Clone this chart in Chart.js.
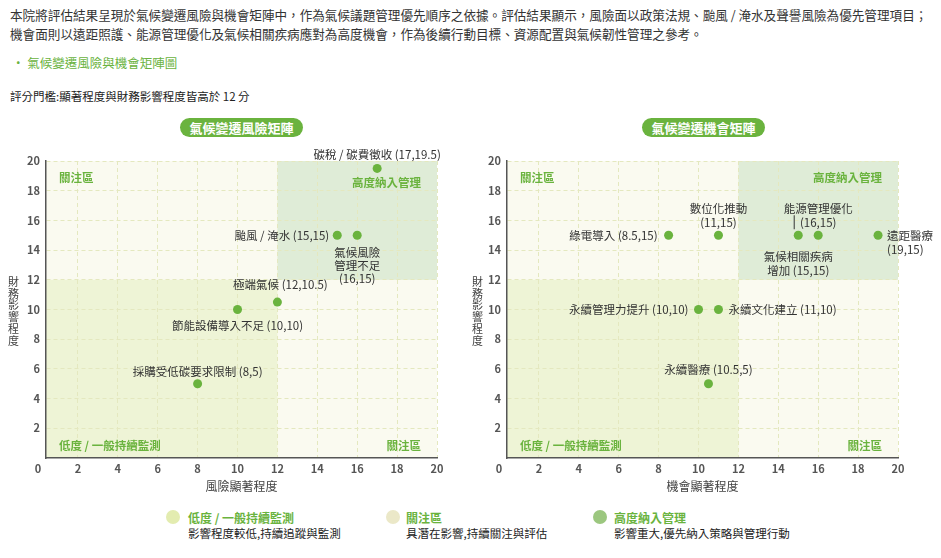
<!DOCTYPE html>
<html lang="zh-Hant">
<head>
<meta charset="utf-8">
<script src="https://cdn.jsdelivr.net/npm/chart.js@4.4.0/dist/chart.umd.min.js"></script>
<style>
  body { margin: 0; width: 941px; height: 558px; background: #fff; position: relative; overflow: hidden;
         font-family: "Noto Sans CJK TC", "Noto Sans", sans-serif; color: #333; }
  .intro { position: absolute; left: 10px; top: 5px; margin: 0; font-size: 12.6px; line-height: 19px; white-space: nowrap; }
  .heading { position: absolute; left: 12px; top: 53px; margin: 0; font-size: 12.5px; color: #6ab33e; }
  .threshold { position: absolute; left: 10px; top: 88px; margin: 0; font-size: 11.5px; color: #222; }
  .pill { position: absolute; top: 118px; width: 123px; height: 19px; border-radius: 10px; background: #6ab33e;
          color: #fff; font-size: 13px; font-weight: bold; text-align: center; line-height: 19px; }
  .chart-box { position: absolute; top: 140px; height: 360px; }
  .ytitle { position: absolute; top: 276px; width: 11px; font-size: 11px; line-height: 11.7px; color: #444; word-break: break-all; }
  .legend-dot { position: absolute; top: 510px; width: 14px; height: 14px; border-radius: 50%; }
  .legend-title { position: absolute; top: 509px; font-size: 12px; font-weight: bold; color: #6ab33e; white-space: nowrap; }
  .legend-desc { position: absolute; top: 525px; font-size: 11.5px; color: #222; white-space: nowrap; }
</style>
</head>
<body>
<p class="intro">本院將評估結果呈現於氣候變遷風險與機會矩陣中，作為氣候議題管理優先順序之依據。評估結果顯示，風險面以政策法規、颱風 / 淹水及聲譽風險為優先管理項目；<br>機會面則以遠距照護、能源管理優化及氣候相關疾病應對為高度機會，作為後續行動目標、資源配置與氣候韌性管理之參考。</p>
<p class="heading">・ 氣候變遷風險與機會矩陣圖</p>
<p class="threshold">評分門檻:顯著程度與財務影響程度皆高於 12 分</p>

<div class="pill" style="left:180px">氣候變遷風險矩陣</div>
<div class="pill" style="left:642px">氣候變遷機會矩陣</div>

<div class="chart-box" style="left:0; width:470px"><canvas id="riskChart"></canvas></div>
<div class="chart-box" style="left:470px; width:471px"><canvas id="oppChart"></canvas></div>

<div class="ytitle" style="left:8px">財務影響程度</div>
<div class="ytitle" style="left:472px">財務影響程度</div>

<div class="legend-dot" style="left:166px; background:#e3ecb0"></div>
<div class="legend-title" style="left:188px">低度 / 一般持續監測</div>
<div class="legend-desc" style="left:188px">影響程度較低,持續追蹤與監測</div>
<div class="legend-dot" style="left:386px; background:#ebe8c8"></div>
<div class="legend-title" style="left:406px">關注區</div>
<div class="legend-desc" style="left:406px">具潛在影響,持續關注與評估</div>
<div class="legend-dot" style="left:593px; background:#9cc77f"></div>
<div class="legend-title" style="left:614px">高度納入管理</div>
<div class="legend-desc" style="left:614px">影響重大,優先納入策略與管理行動</div>

<script>
const riskNames = ['碳稅 / 碳費徵收', '颱風 / 淹水', '氣候風險管理不足', '極端氣候', '節能設備導入不足', '採購受低碳要求限制'];
const riskX = [17, 15, 16, 12, 10, 8];
const riskY = [19.5, 15, 15, 10.5, 10, 5];

const oppNames = ['綠電導入', '數位化推動', '能源管理優化', '氣候相關疾病增加', '遠距醫療', '永續管理力提升', '永續文化建立', '永續醫療'];
const oppX = [8.5, 11, 16, 15, 19, 10, 11, 10.5];
const oppY = [15, 15, 15, 15, 15, 10, 10, 5];

const xTicks = [0, 2, 4, 6, 8, 10, 12, 14, 16, 18, 20];
const yTicks = [2, 4, 6, 8, 10, 12, 14, 16, 18, 20];
const threshold = 12;
const zoneLabels = ['關注區', '高度納入管理', '低度 / 一般持續監測', '關注區'];

// Label placement (style only)
const riskLayout = [
    { pos: 'above', gap: 14 },
    { pos: 'left', gap: 8 },
    { pos: 'below', gap: 17, lh: 13, split: 4, coordLine: true },
    { pos: 'above', gap: 17, dx: 3 },
    { pos: 'below', gap: 16 },
    { pos: 'above', gap: 12 }
];
const oppLayout = [
    { pos: 'left', gap: 11 },
    { pos: 'above', gap: 13, lh: 14, coordLine: true },
    { pos: 'above', gap: 13, lh: 14, coordLine: true, leader: { dx: -24, y1: -20, y2: -6 } },
    { pos: 'below', gap: 21, lh: 14.5, split: 6 },
    { pos: 'right', gap: 9, lh: 14, coordLine: true },
    { pos: 'left', gap: 10 },
    { pos: 'right', gap: 10 },
    { pos: 'above', gap: 14 }
];

const FONT = '"Noto Sans CJK TC", "Noto Sans", sans-serif';
const GREEN = '#6ab33e';
Chart.defaults.font.family = FONT;

function labelLines(name, x, y, l) {
    const coord = '(' + x + ',' + y + ')';
    const parts = l.split ? [name.slice(0, l.split), name.slice(l.split)] : [name];
    if (l.coordLine) parts.push(coord);
    else parts[parts.length - 1] += ' ' + coord;
    return parts;
}

const matrixPlugin = {
    id: 'matrix',
    beforeDraw(chart) {
        const { ctx, chartArea: a, scales } = chart;
        const mx = scales.x.getPixelForValue(threshold);
        const my = scales.y.getPixelForValue(threshold);
        ctx.save();
        ctx.fillStyle = '#fafaf0';
        ctx.fillRect(a.left, a.top, a.right - a.left, a.bottom - a.top);
        ctx.fillStyle = '#eef4d6';
        ctx.fillRect(a.left, my, mx - a.left, a.bottom - my);
        ctx.fillStyle = '#dfecd7';
        ctx.fillRect(mx, a.top, a.right - mx, my - a.top);
        ctx.restore();
    },
    beforeDatasetsDraw(chart, args, opts) {
        const { ctx, chartArea: a } = chart;
        ctx.save();
        ctx.font = 'bold 11.5px ' + FONT;
        ctx.fillStyle = GREEN;
        ctx.textBaseline = 'middle';
        ctx.textAlign = 'left';
        ctx.fillText(zoneLabels[0], a.left + 13, a.top + 17);
        ctx.fillText(zoneLabels[2], a.left + 13, a.bottom - 12);
        ctx.textAlign = 'right';
        ctx.fillText(zoneLabels[1], a.right - 16, a.top + opts.topRight);
        ctx.fillText(zoneLabels[3], a.right - 16, a.bottom - 12);
        ctx.restore();
    },
    afterDatasetsDraw(chart, args, opts) {
        const ctx = chart.ctx;
        const pts = chart.getDatasetMeta(0).data;
        ctx.save();
        ctx.font = '11.5px ' + FONT;
        ctx.fillStyle = '#333';
        ctx.textBaseline = 'middle';
        pts.forEach((p, i) => {
            const l = opts.layout[i];
            const lines = labelLines(opts.names[i], opts.xs[i], opts.ys[i], l);
            const lh = l.lh || 13;
            const n = lines.length;
            lines.forEach((t, k) => {
                let tx = p.x + (l.dx || 0), ty;
                if (l.pos === 'above') { ctx.textAlign = 'center'; ty = p.y - l.gap - (n - 1 - k) * lh; }
                else if (l.pos === 'below') { ctx.textAlign = 'center'; ty = p.y + l.gap + k * lh; }
                else if (l.pos === 'left') { ctx.textAlign = 'right'; tx = p.x - l.gap; ty = p.y + k * lh; }
                else { ctx.textAlign = 'left'; tx = p.x + l.gap; ty = p.y + k * lh; }
                ctx.fillText(t, tx, ty);
            });
            if (l.leader) {
                ctx.strokeStyle = '#333';
                ctx.lineWidth = 1;
                ctx.beginPath();
                ctx.moveTo(p.x + l.leader.dx, p.y + l.leader.y1);
                ctx.lineTo(p.x + l.leader.dx, p.y + l.leader.y2);
                ctx.stroke();
            }
        });
        ctx.restore();
    }
};

function makeMatrix(id, names, xs, ys, layout, xTitle, yWidth, padRight, topRight) {
    return new Chart(document.getElementById(id), {
        type: 'scatter',
        data: {
            datasets: [{
                data: xs.map((v, i) => ({ x: v, y: ys[i] })),
                backgroundColor: GREEN,
                borderWidth: 0,
                pointRadius: 4.5,
                pointHoverRadius: 4.5
            }]
        },
        options: {
            responsive: true,
            maintainAspectRatio: false,
            animation: false,
            layout: { padding: { top: 21, right: padRight, bottom: 0, left: 0 } },
            plugins: {
                legend: { display: false },
                tooltip: { enabled: false },
                matrix: { names: names, xs: xs, ys: ys, layout: layout, topRight: topRight }
            },
            scales: {
                x: {
                    type: 'linear',
                    min: 0.4,
                    max: 20,
                    afterBuildTicks: s => { s.ticks = xTicks.map(v => ({ value: v })); },
                    afterFit: s => { s.height = 42; },
                    ticks: { autoSkip: false, maxRotation: 0, padding: 4, color: '#555', font: { size: 11, weight: 'bold' } },
                    grid: {
                        drawTicks: false,
                        lineWidth: 1,
                        color: c => (c.tick && c.tick.value === 0) ? 'rgba(0,0,0,0)' : '#e4e8bf'
                    },
                    border: { color: '#555', width: 1.5, dash: [4, 3] },
                    title: { display: true, text: xTitle, color: '#444', font: { size: 12 }, padding: { top: 4, bottom: 6 } }
                },
                y: {
                    type: 'linear',
                    min: 0,
                    max: 20,
                    afterBuildTicks: s => { s.ticks = yTicks.map(v => ({ value: v })); },
                    afterFit: s => { s.width = yWidth; },
                    ticks: { padding: 6, color: '#555', font: { size: 11, weight: 'bold' } },
                    grid: { drawTicks: false, lineWidth: 1, color: '#e4e8bf' },
                    border: { color: '#555', width: 1.5, dash: [4, 3] }
                }
            }
        },
        plugins: [matrixPlugin]
    });
}

makeMatrix('riskChart', riskNames, riskX, riskY, riskLayout, '風險顯著程度', 46, 33, 22);
makeMatrix('oppChart', oppNames, oppX, oppY, oppLayout, '機會顯著程度', 37, 43, 17);
</script>
</body>
</html>
